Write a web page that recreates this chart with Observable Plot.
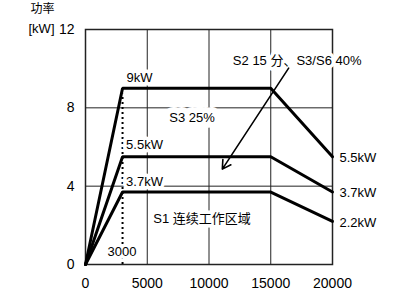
<!DOCTYPE html>
<html>
<head>
<meta charset="utf-8">
<script src="https://cdn.jsdelivr.net/npm/d3@7"></script>
<script src="https://cdn.jsdelivr.net/npm/@observablehq/plot@0.6"></script>
<style>
  html, body { margin: 0; padding: 0; background: #fff; }
  #chart svg { display: block; }
</style>
</head>
<body>
<div id="chart"></div>
<script>
// Data
const speeds = [0, 3000, 15000, 20000];
const power9 = [0, 9, 9, 5.5];
const power55 = [0, 5.5, 5.5, 3.7];
const power37 = [0, 3.7, 3.7, 2.2];
const seriesNames = ["9kW", "5.5kW", "3.7kW"];
const endLabels = ["5.5kW", "3.7kW", "2.2kW"];
const endValues = [5.5, 3.7, 2.2];
const xTicks = [0, 5000, 10000, 15000, 20000];
const yTicks = [0, 4, 8, 12];
const xGrid = [5000, 10000, 15000];
const yGrid = [4, 8];
const baseSpeed = 3000;

const rows = [];
[power9, power55, power37].forEach((vals, i) => {
  vals.forEach((v, j) => rows.push({series: seriesNames[i], speed: speeds[j], power: v}));
});
const ends = endLabels.map((t, i) => ({text: t, speed: speeds[speeds.length - 1], power: endValues[i]}));

const FONT = "'Liberation Sans', Arial, 'Noto Sans CJK SC', sans-serif";
const halo = {fill: "black", stroke: "white", strokeWidth: 7, paintOrder: "stroke", fontSize: 13};

function label(text, x, y, extra = {}) {
  return Plot.text([text], {x: x, y: y, text: d => d, ...halo, ...extra});
}

const chart = Plot.plot({
  width: 396,
  height: 298,
  marginLeft: 85,
  marginRight: 64,
  marginTop: 29,
  marginBottom: 34,
  style: {fontFamily: FONT, fontSize: "13px", background: "white", color: "black"},
  x: {domain: [0, 20000]},
  y: {domain: [0, 12]},
  marks: [
    Plot.gridX(xGrid, {stroke: "#222", strokeOpacity: 1, strokeWidth: 1}),
    Plot.gridY(yGrid, {stroke: "#222", strokeOpacity: 1, strokeWidth: 1}),
    Plot.frame({stroke: "#222", strokeWidth: 1.5}),
    Plot.axisX(xTicks, {tickSize: 0, tickPadding: 14, fontSize: 14, tickFormat: d => String(d), label: null}),
    Plot.axisY(yTicks, {tickSize: 0, tickPadding: 11, fontSize: 14, tickFormat: d => String(d), label: null}),
    Plot.ruleX([baseSpeed], {y1: 0, y2: 8.7, stroke: "black", strokeWidth: 2, strokeDasharray: "2,3"}),
    label("9kW", 4376, 9.51),
    label("S3 25%", 8630, 7.47, {strokeWidth: 12}),
    label("5.5kW", 4781, 6.09),
    label("3.7kW", 4781, 4.2),
    label("3000", 2958, 0.63),
    label("S1 连续工作区域", 9441, 2.31),
    label("S2 15 分、S3/S6 40%", 17140, 10.38),
    Plot.line(rows, {x: "speed", y: "power", z: "series", stroke: "black", strokeWidth: 3, strokeLinejoin: "miter"}),
    Plot.arrow([0], {x1: 16450, y1: 10.03, x2: 11078, y2: 4.87, stroke: "black", strokeWidth: 1.6, headLength: 9, insetEnd: 0}),
    Plot.text(ends, {x: "speed", y: "power", text: "text", textAnchor: "start", dx: 7, dy: 1, fontSize: 13, fill: "black"}),
    Plot.text(["[kW]"], {frameAnchor: "top-left", text: d => d, textAnchor: "middle", lineAnchor: "middle", dx: -44, dy: -1, fontSize: 13, fill: "black"}),
    Plot.text(["功率"], {frameAnchor: "top-left", text: d => d, textAnchor: "middle", lineAnchor: "middle", dx: -43, dy: -20, fontSize: 12, fill: "black"})
  ]
});
document.getElementById("chart").appendChild(chart);
</script>
</body>
</html>
